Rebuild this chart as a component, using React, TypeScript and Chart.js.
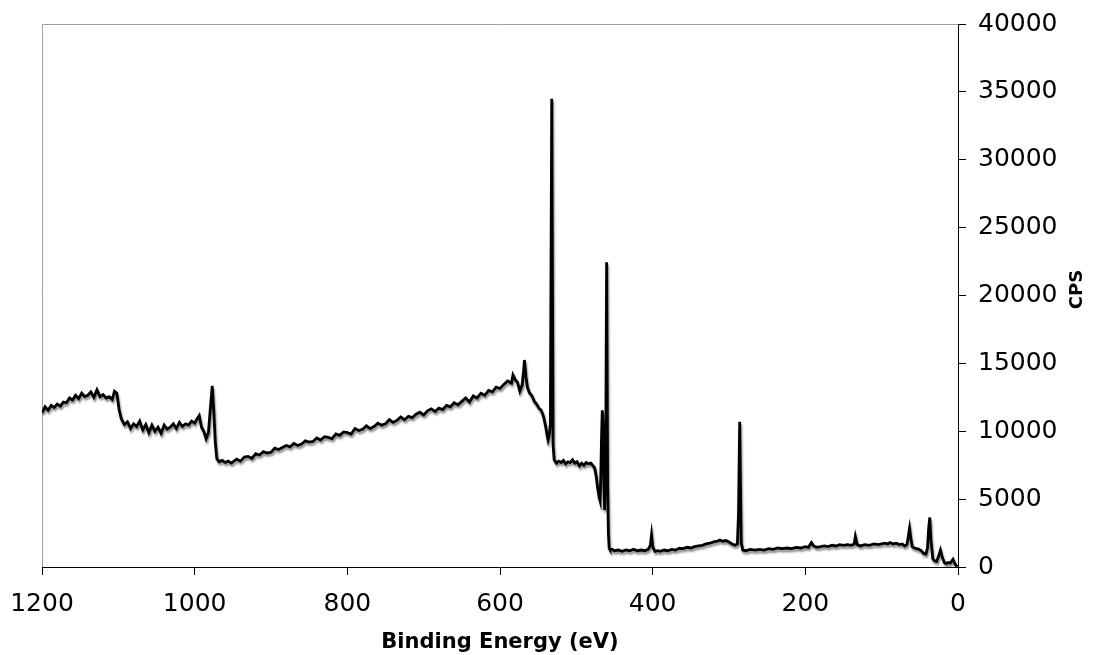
import React, { useEffect, useRef } from "react";
import { Chart, registerables } from "chart.js";

Chart.register(...registerables);

// ---- Data ----
const highEV = [
  1200, 1196, 1192, 1188, 1184, 1180, 1176, 1172, 1168, 1164,
  1160, 1156, 1152, 1148, 1144, 1140, 1136, 1132, 1128, 1124,
  1120, 1116, 1112, 1108, 1105, 1102, 1099, 1096, 1092, 1088,
  1084, 1080, 1076, 1072, 1068, 1064, 1060, 1056, 1052, 1048,
  1044, 1040, 1036, 1032, 1028, 1024, 1020, 1016, 1012, 1008,
  1004, 1000, 997, 994, 991, 988, 985, 982, 979, 977,
  975, 973, 971, 968, 964, 960, 956, 952,
];
const highCps = [
  11350, 11800, 11550, 11900, 11750, 12000, 11850, 12150, 12100, 12450,
  12300, 12650, 12400, 12800, 12550, 12650, 12900, 12500, 13050, 12550,
  12700, 12450, 12550, 12350, 12950, 12800, 11600, 10900, 10500, 10700,
  10200, 10550, 10350, 10750, 10100, 10500, 9900, 10450, 10000, 10300,
  9850, 10450, 10150, 10300, 10550, 10200, 10650, 10350, 10550, 10450,
  10750, 10600, 10900, 11150, 10300, 10000, 9450, 9900, 12000, 13350,
  11500, 9200, 8000, 7750, 7850, 7700, 7800, 7650,
];

const slopeEV = [
  945, 940, 935, 930, 925, 920, 915, 910, 905, 900,
  895, 890, 885, 880, 875, 870, 865, 860, 855, 850,
  845, 840, 835, 830, 825, 820, 815, 810, 805, 800,
  795, 790, 785, 780, 775, 770, 765, 760, 755, 750,
  745, 740, 735, 730, 725, 720, 715, 710, 705, 700,
  695, 690, 685, 680, 675, 670, 665, 660, 655, 650,
  645, 640, 635, 630, 625, 620, 615, 610, 605, 600,
  595, 590, 585,
];
const slopeCps = [
  7950, 7800, 8100, 8150, 8000, 8350, 8250, 8500, 8400, 8450,
  8750, 8650, 8800, 8950, 8850, 9100, 8950, 9050, 9300, 9200,
  9250, 9500, 9350, 9600, 9550, 9450, 9800, 9700, 9950, 9900,
  9800, 10200, 10050, 10150, 10400, 10200, 10350, 10600, 10450, 10550,
  10850, 10650, 10800, 11050, 10850, 11100, 11000, 11250, 11400, 11200,
  11500, 11650, 11450, 11700, 11600, 11900, 11800, 12100, 11950, 12200,
  12450, 12150, 12600, 12450, 12800, 12650, 13000, 12900, 13250, 13150,
  13450, 13700, 13550,
];

const o1sTiEV = [
  583, 580, 577, 574, 571, 569, 568, 566, 564, 561,
  558, 555, 552, 549, 546, 543, 540, 538, 537, 535.5,
  534, 532.2, 530.5, 529, 526, 523, 520, 517,
  514, 511, 508, 505, 502, 499, 496, 493, 490, 487,
  484, 481, 478, 476, 474, 472, 470, 469, 468, 467,
  466, 465, 464, 463, 461.5, 460.3, 459, 458, 457,
  456, 454.5,
];
const o1sTiCps = [
  14150, 13800, 13600, 12950, 13400, 14500, 15250, 14000, 13200, 12800,
  12600, 12200, 12000, 11700, 11550, 11100, 10300, 9600, 9350, 9700,
  10500, 34500, 9000, 7900, 7650, 7800, 7700, 7850,
  7600, 7750, 7700, 7900, 7650, 7750, 7450, 7650, 7500, 7700,
  7600, 7650, 7450, 7300, 6700, 5800, 5100, 4900, 6500, 9500,
  11550, 10500, 6500, 4200, 8000, 22450, 6000, 2500, 1400,
  1300, 1250,
];

const lowEV = [
  453, 450, 445, 440, 435, 430, 425, 420, 415, 410,
  406, 403, 401.5, 400, 397, 393, 390, 385, 380, 375,
  370, 365, 360, 355, 350, 345, 340, 335, 330, 325,
  320, 315, 312, 308, 304, 300, 296, 292, 289, 287.5,
  286, 285, 284, 282, 278, 272, 266, 260, 254, 248,
  242, 236, 230, 224, 218, 212, 206, 200, 196, 192,
  189, 185, 180, 175, 170, 165, 160, 155, 150, 145,
  140, 136, 134.5, 132, 128, 122, 116, 110, 104, 100,
  96, 92, 89, 85, 81, 77, 73, 70, 67, 65.5,
  63.5, 62, 60, 57, 54, 51, 48, 45, 42, 40,
  38.5, 37, 35.5, 33, 30.5, 28, 25.5, 23, 20.5, 17.5,
  15, 13, 10, 8, 6.5, 4.5, 3, 1,
];
const lowCps = [
  1300, 1200, 1250, 1150, 1250, 1200, 1300, 1200, 1250, 1200,
  1300, 1600, 2350, 1500, 1150, 1200, 1150, 1250, 1200, 1300,
  1250, 1380, 1350, 1450, 1400, 1500, 1550, 1600, 1700, 1750,
  1850, 1900, 1990, 1900, 1950, 1850, 1700, 1600, 1700, 4000,
  10700, 6000, 1800, 1250, 1200, 1300, 1250, 1300, 1250, 1350,
  1300, 1400, 1350, 1400, 1350, 1450, 1400, 1500, 1450, 1800,
  1550, 1450, 1500, 1550, 1500, 1600, 1550, 1650, 1600, 1650,
  1600, 1700, 2250, 1650, 1550, 1650, 1600, 1700, 1650, 1700,
  1750, 1700, 1800, 1700, 1750, 1650, 1700, 1550, 1650, 2100,
  2850, 2200, 1500, 1400, 1350, 1300, 1200, 1000, 950, 1400,
  2800, 3650, 2000, 600, 450, 400, 800, 1250, 700, 300,
  250, 330, 300, 450, 570, 300, 150, 20,
];

const xTicks = [0, 200, 400, 600, 800, 1000, 1200];
const yTicks = [0, 5000, 10000, 15000, 20000, 25000, 30000, 35000, 40000];
const xTitle = "Binding Energy (eV)";
const yTitle = "CPS";

const FONT = "'DejaVu Sans', Verdana, sans-serif";

function buildPoints() {
  const ev = [...highEV, ...slopeEV, ...o1sTiEV, ...lowEV];
  const cps = [...highCps, ...slopeCps, ...o1sTiCps, ...lowCps];
  return ev.map((x, i) => ({ x, y: cps[i] }));
}

export default function App() {
  const ref = useRef<HTMLCanvasElement | null>(null);

  useEffect(() => {
    document.body.style.margin = "0";
    const canvas = ref.current;
    if (!canvas) return;

    const framePlugin = {
      id: "frameAndShadow",
      beforeDatasetsDraw(chart: any) {
        const { ctx, chartArea } = chart;
        ctx.save();
        ctx.strokeStyle = "#a0a0a0";
        ctx.lineWidth = 1;
        ctx.beginPath();
        ctx.moveTo(chartArea.left + 0.5, chartArea.bottom);
        ctx.lineTo(chartArea.left + 0.5, chartArea.top + 0.5);
        ctx.lineTo(chartArea.right, chartArea.top + 0.5);
        ctx.stroke();
        ctx.restore();
        ctx.save();
        ctx.shadowColor = "rgba(130,130,130,0.9)";
        ctx.shadowOffsetX = 1;
        ctx.shadowOffsetY = 2.5;
        ctx.shadowBlur = 2;
      },
      afterDatasetsDraw(chart: any) {
        chart.ctx.restore();
      },
    };

    const cpsPlugin = {
      id: "cpsTitle",
      afterDraw(chart: any) {
        const { ctx, chartArea } = chart;
        ctx.save();
        ctx.translate(1077, (chartArea.top + chartArea.bottom) / 2 - 6);
        ctx.rotate(-Math.PI / 2);
        ctx.font = `bold 18px ${FONT}`;
        ctx.fillStyle = "#000";
        ctx.textAlign = "center";
        ctx.textBaseline = "middle";
        ctx.fillText(yTitle, 0, 0);
        ctx.restore();
      },
    };

    const chart = new Chart(canvas, {
      type: "line",
      data: {
        datasets: [
          {
            data: buildPoints(),
            borderColor: "#000",
            borderWidth: 2.8,
            pointRadius: 0,
            tension: 0,
            fill: false,
          },
        ],
      },
      options: {
        animation: false,
        responsive: false,
        layout: { padding: { left: 42, top: 24, right: 0, bottom: 0 } },
        plugins: { legend: { display: false }, tooltip: { enabled: false } },
        scales: {
          x: {
            type: "linear",
            reverse: true,
            min: 0,
            max: 1200,
            afterFit: (s: any) => {
              s.height = 88;
              s.paddingLeft = 0;
              s.paddingRight = 0;
            },
            afterBuildTicks: (s: any) => {
              s.ticks = xTicks.map((v) => ({ value: v }));
            },
            ticks: {
              color: "#000",
              font: { family: FONT, size: 25 },
              padding: 14,
              maxRotation: 0,
              autoSkip: false,
              callback: (v: any) => String(v),
            },
            grid: { drawOnChartArea: false, drawTicks: true, tickLength: 8, color: "#000" },
            border: { color: "#000", width: 1 },
            title: {
              display: true,
              text: xTitle,
              color: "#000",
              font: { family: FONT, size: 21, weight: "bold" },
              padding: { top: 0, bottom: 0 },
            },
          },
          y: {
            type: "linear",
            position: "right",
            min: 0,
            max: 40000,
            afterFit: (s: any) => {
              s.width = 137;
              s.paddingTop = 0;
              s.paddingBottom = 0;
            },
            afterBuildTicks: (s: any) => {
              s.ticks = yTicks.map((v) => ({ value: v }));
            },
            ticks: {
              color: "#000",
              font: { family: FONT, size: 25 },
              padding: 12,
              autoSkip: false,
              callback: (v: any) => String(v),
            },
            grid: { drawOnChartArea: false, drawTicks: true, tickLength: 8, color: "#000" },
            border: { color: "#000", width: 1 },
          },
        },
      } as any,
      plugins: [framePlugin, cpsPlugin],
    });

    return () => chart.destroy();
  }, []);

  return (
    <div style={{ position: "fixed", left: 0, top: 0, width: 1095, height: 655, background: "#fff" }}>
      <canvas ref={ref} width={1095} height={655} style={{ width: 1095, height: 655 }} />
    </div>
  );
}
